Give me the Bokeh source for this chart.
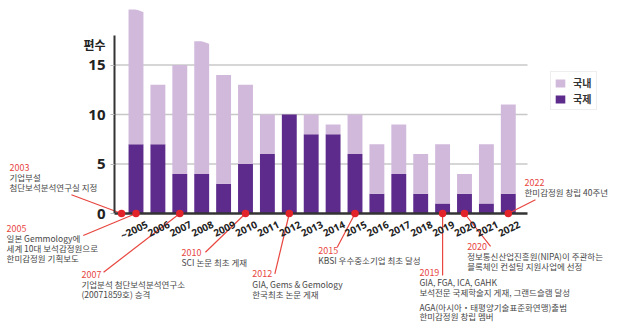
from bokeh.plotting import figure
from bokeh.models import (ColumnDataSource, FixedTicker, Range1d, Legend, LegendItem,
                          CustomJSTickFormatter)
from bokeh.core.properties import value
from bokeh.embed import file_html
from bokeh.resources import INLINE

# ---------------- data ----------------
years = ["~2005", "2006", "2007", "2008", "2009", "2010", "2011", "2012", "2013",
         "2014", "2015", "2016", "2017", "2018", "2019", "2020", "2021", "2022"]
intl = [7, 7, 4, 4, 3, 5, 6, 10, 8, 8, 6, 2, 4, 2, 1, 2, 1, 2]          # 국제
dom = [13.6, 6, 11, 13.4, 11, 8, 4, 0, 2, 1, 4, 5, 5, 4, 6, 2, 6, 9]     # 국내
broken = ["~2005", "2008"]          # bars drawn with a break at the top
yticks = [0, 5, 10, 15]

note_years = ["2003", "2005", "2007", "2010", "2012", "2015", "2019", "2020", "2022"]
note_lines = [
    ["기업부설", "첨단보석분석연구실 지정"],
    ["일본 Gemmology에", "세계 10대 보석감정원으로", "한미감정원 기획보도"],
    ["기업분석 첨단보석분석연구소", "(20071859호) 승격"],
    ["SCI 논문 최초 게재"],
    ["GIA, Gems & Gemology", "한국최초 논문 게재"],
    ["KBSI 우수중소기업 최초 달성"],
    ["GIA, FGA, ICA, GAHK", "보석전문 국제학술지 게재, 그랜드슬램 달성",
     "AGA(아시아・태평양기술표준화연맹)출범", "한미감정원 창립 멤버"],
    ["정보통신산업진흥원(NIPA)이 주관하는", "블록체인 컨설팅 지원사업에 선정"],
    ["한미감정원 창립 40주년"],
]
note_target = ["~2005", "~2005", "2007", "2010", "2012", "2015", "2019", "2020", "2022"]

# ---------------- layout (positions in data units) ----------------
note_offset = [-0.66, 0, 0, 0, 0, 0, 0, 0, 0]
note_x = [-5.78, -5.91, -2.49, 2.08, 5.31, 8.32, 12.94, 15.12, 17.74]
note_y = [4.68, -1.48, -6.13, -3.91, -6.09, -3.74, -5.93, -3.33, 3.16]
lead_x = [-2.95, -2.41, -1.48, 3.17, 6.34, 9.19, 14.0, 16.19, 18.24]
lead_y = [1.89, -2.22, -5.93, -3.91, -6.09, -3.40, -6.26, -3.33, 1.38]
note_gap = {6: (2, 0.47)}   # extra gap before line index 2 of note 6
LS = 1.0                    # line spacing (data units)

W, H = 640, 335
PXC, X0 = 21.9, 135.5       # px per category, px of first bar centre
PXU, Y0 = 9.9, 213          # px per unit, px of zero line
XL, XR = (114 - X0) / PXC, (527 - X0) / PXC
YTOP = 18

LIGHT, DARK = "#d1b9db", "#5d2b8c"
RED, DOT = "#e8463f", "#e3232a"
FONT = "Noto Sans CJK KR"

p = figure(width=W, height=H, output_backend="svg", toolbar_location=None, title=None,
           x_range=Range1d(-X0 / PXC, (W - X0) / PXC),
           y_range=Range1d(-(H - Y0) / PXU, Y0 / PXU),
           min_border=0, outline_line_color=None, background_fill_color="white")
p.xgrid.visible = False
p.ygrid.visible = False

# grid lines
grid_y = [t for t in yticks if t > 0]
p.segment(x0=XL, x1=XR, y0=grid_y, y1=grid_y, line_color="#c8c8c8", line_width=1.6,
          level="underlay")

# stacked bars
xs = list(range(len(years)))
src = ColumnDataSource(dict(x=xs, intl=intl, dom=dom))
rs = p.vbar_stack(["intl", "dom"], x="x", width=0.68, fill_color=[DARK, LIGHT],
                  line_color=None, source=src)

# break marks on truncated bars
bi = [years.index(c) for c in broken]
tops = [intl[i] + dom[i] for i in bi]
p.patches(xs=[[b - 0.05, b + 0.36, b + 0.36] for b in bi],
          ys=[[t + 0.05, t + 0.05, t - 0.28] for t in tops],
          fill_color="white", line_color=None)

# axes
p.yaxis.fixed_location = XL
p.yaxis.ticker = FixedTicker(ticks=yticks)
p.yaxis.bounds = (0, YTOP)
p.yaxis.axis_line_color = "#333333"
p.yaxis.axis_line_width = 2
p.yaxis.major_tick_in = 0
p.yaxis.major_tick_out = 4
p.yaxis.major_tick_line_color = "#bbbbbb"
p.yaxis.minor_tick_line_color = None
p.yaxis.major_label_text_font = "Open Sans"
p.yaxis.major_label_text_font_size = "15px"
p.yaxis.major_label_text_font_style = "bold"
p.yaxis.major_label_text_color = "#222222"
p.yaxis.major_label_standoff = 5

p.xaxis.fixed_location = 0
p.xaxis.bounds = (XL, XR)
p.xaxis.ticker = FixedTicker(ticks=[i + 0.5 for i in xs])
p.xaxis.formatter = CustomJSTickFormatter(args=dict(labels=years),
                                          code="return labels[Math.round(tick - 0.5)] || '';")
p.xaxis.axis_line_color = "#333333"
p.xaxis.axis_line_width = 2.5
p.xaxis.major_tick_line_color = None
p.xaxis.minor_tick_line_color = None
p.xaxis.major_tick_in = 0
p.xaxis.major_tick_out = 0
p.xaxis.major_label_orientation = 0.45
p.xaxis.major_label_standoff = 10
p.xaxis.major_label_text_font = "Open Sans"
p.xaxis.major_label_text_font_size = "10px"
p.xaxis.major_label_text_font_style = "bold"
p.xaxis.major_label_text_color = "#222222"

# y axis title
p.text(x=[(94 - X0) / PXC], y=[17.04], text=["편수"], text_font=value(FONT),
       text_font_size="12px", text_font_style="bold", text_color="#222222",
       text_align="center", text_baseline="middle")

# annotations
dot_x = [years.index(c) + o for c, o in zip(note_target, note_offset)]
p.segment(x0=lead_x, y0=lead_y, x1=dot_x, y1=[0] * len(dot_x), line_color=RED,
          line_width=1.2)
p.scatter(x=dot_x, y=[0] * len(dot_x), size=7.5, fill_color=DOT, line_color=None,
          level="overlay")

bx, by, bt = [], [], []
for k, lines in enumerate(note_lines):
    gap_at, gap = note_gap.get(k, (None, 0))
    yy = note_y[k]
    for j, t in enumerate(lines):
        yy -= LS
        if j == gap_at:
            yy -= gap
        bx.append(note_x[k]); by.append(yy); bt.append(t)
p.text(x=note_x, y=note_y, text=note_years, text_font=value(FONT), text_font_size="9px",
       text_color=RED, text_align="left", text_baseline="middle")
p.text(x=bx, y=by, text=bt, text_font=value(FONT), text_font_size="8.5px",
       text_color="#474747", text_align="left", text_baseline="middle")

# legend
legend = Legend(items=[LegendItem(label="국내", renderers=[rs[1]]),
                       LegendItem(label="국제", renderers=[rs[0]])],
                location=(550, 225), orientation="vertical",
                border_line_color="#dddddd", border_line_width=1.5,
                background_fill_color="white", padding=3, spacing=1, margin=0,
                glyph_width=12, glyph_height=10, label_standoff=7, label_height=10,
                label_text_font=FONT, label_text_font_size="10px",
                label_text_font_style="bold", label_text_color="#333333")
p.add_layout(legend)

open("out.html", "w").write(file_html(p, INLINE))
